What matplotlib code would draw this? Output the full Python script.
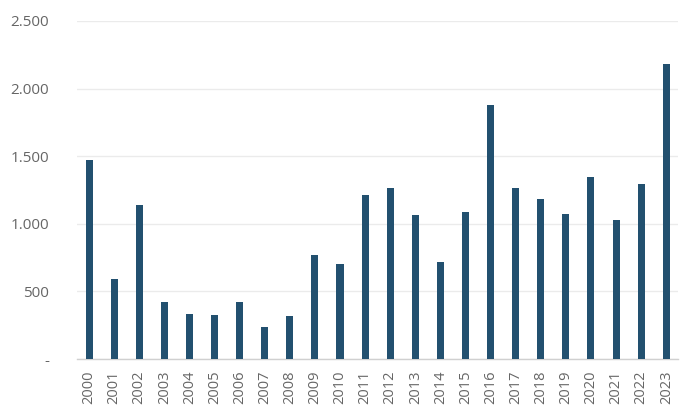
import matplotlib
matplotlib.use("Agg")
import matplotlib.pyplot as plt
from matplotlib.ticker import FuncFormatter, MultipleLocator

years = [str(y) for y in range(2000, 2024)]
values = [1470, 590, 1140, 424, 333, 326, 424, 237, 316, 773, 701, 1217,
          1262, 1062, 721, 1087, 1879, 1267, 1183, 1074, 1346, 1025, 1294, 2185]

plt.rcParams['font.family'] = ['Open Sans', 'DejaVu Sans']

fig = plt.figure(figsize=(7, 4.2), dpi=100)
ax = fig.add_axes([0.11, 0.145, 0.859, 0.805])

x = list(range(len(years)))
ax.bar(x, values, width=0.28, color='#22506f', zorder=3)

ax.set_xlim(-0.48, len(years) - 1 + 0.48)
ax.set_ylim(0, 2500)
ax.yaxis.set_major_locator(MultipleLocator(500))

def fmt(v, pos):
    if v == 0:
        return '-'
    return f"{int(v):,}".replace(',', '.')

ax.yaxis.set_major_formatter(FuncFormatter(fmt))
ax.set_xticks(x)
ax.set_xticklabels(years, rotation=90)

ax.grid(axis='y', color='#ebebeb', linewidth=1, zorder=0)
for s in ['top', 'right', 'left']:
    ax.spines[s].set_visible(False)
ax.spines['bottom'].set_color('#d0d0d0')
ax.spines['bottom'].set_linewidth(1)

ax.tick_params(axis='both', length=0, colors='#666666')
ax.tick_params(axis='y', pad=20, labelsize=11)
ax.tick_params(axis='x', pad=8, labelsize=10.5)

fig.savefig('out.png', dpi=100)
